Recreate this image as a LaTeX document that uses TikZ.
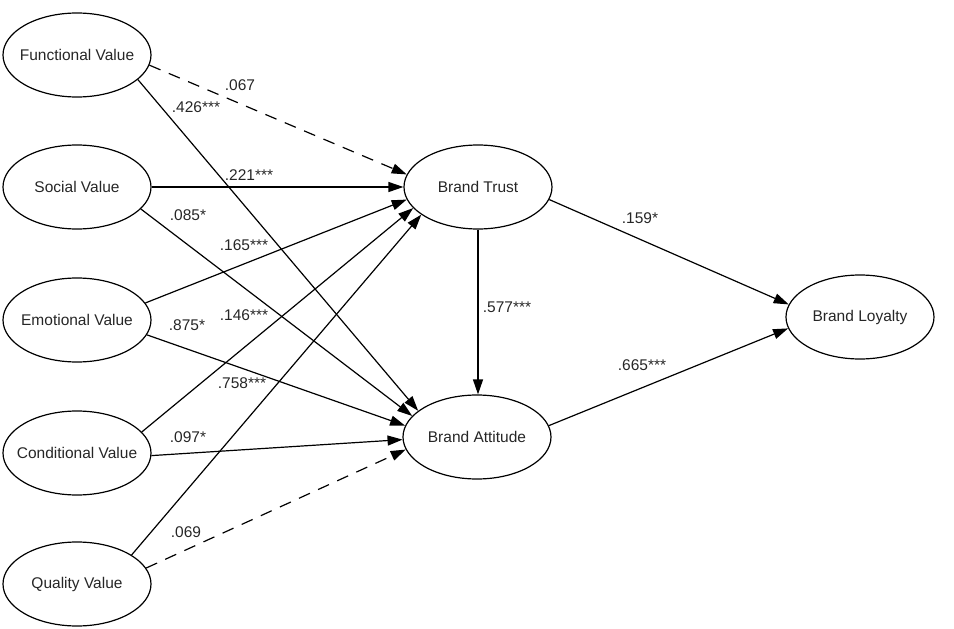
\documentclass[tikz,border=0pt]{standalone}
\usepackage{fontspec}
\setmainfont{Liberation Sans}
\usetikzlibrary{shapes.geometric,arrows.meta}
\newcommand{\ztext}[1]{\makebox[0pt]{#1}}
\begin{document}
\begin{tikzpicture}[x=1pt,y=-1pt,
  var/.style={draw, ellipse, line width=1.2pt, minimum width=148pt, minimum height=84pt, inner sep=0pt, font=\fontsize{15.5}{18}\selectfont, text=black!85},
  path/.style={draw, line width=1.2pt, -{Triangle[length=15pt,width=10pt]}},
  dpath/.style={path, dash pattern=on 12pt off 9pt},
  lab/.style={font=\fontsize{15.5}{18}\selectfont, text=black!85, inner sep=0pt}]
\useasboundingbox (0,0) rectangle (954,629);
\node[var] (fv) at (77,55) {\ztext{Functional Value}};
\node[var] (sv) at (77,187) {\ztext{Social Value}};
\node[var] (ev) at (77,320) {\ztext{Emotional Value}};
\node[var] (cv) at (77,453) {\ztext{Conditional Value}};
\node[var] (qv) at (77,584) {\ztext{Quality Value}};
\node[var] (bt) at (478,187) {\ztext{Brand Trust}};
\node[var] (ba) at (477,437) {\ztext{Brand Attitude}};
\node[var] (bl) at (860,317) {\ztext{Brand Loyalty}};

\draw[dpath] (fv.352) -- (bt.170);
\draw[path] (fv.338) -- (ba.156);
\draw[path] (sv.0) -- (bt.180);
\draw[path] (sv.341) -- (ba.162);
\draw[path] (ev.14) -- (bt.190);
\draw[path] (ev.348) -- (ba.171);
\draw[path] (cv.18) -- (bt.198);
\draw[path] (cv.358) -- (ba.182);
\draw[path] (qv.28) -- (bt.206);
\draw[dpath] (qv.13) -- (ba.190);
\draw[path] (bt.south) -- (bt.south |- ba.north);
\draw[path] (bt.350) -- (bl.170);
\draw[path] (ba.9) -- (bl.189);

\node[lab] (l1) at (240,85) {.067};
\node[lab] (l2) at (196,107) {.426***};
\node[lab] (l3) at (249,175) {.221***};
\node[lab] (l4) at (188,215) {.085*};
\node[lab] (l5) at (244,245) {.165***};
\node[lab] (l6) at (187,325) {.875*};
\node[lab] (l7) at (244,315) {.146***};
\node[lab] (l8) at (242,383) {.758***};
\node[lab] (l9) at (188,437) {.097*};
\node[lab] (l10) at (186,532) {.069};
\node[lab] (l11) at (507,307) {.577***};
\node[lab] (l12) at (640,218) {.159*};
\node[lab] (l13) at (642,365) {.665***};
\end{tikzpicture}
\end{document}
